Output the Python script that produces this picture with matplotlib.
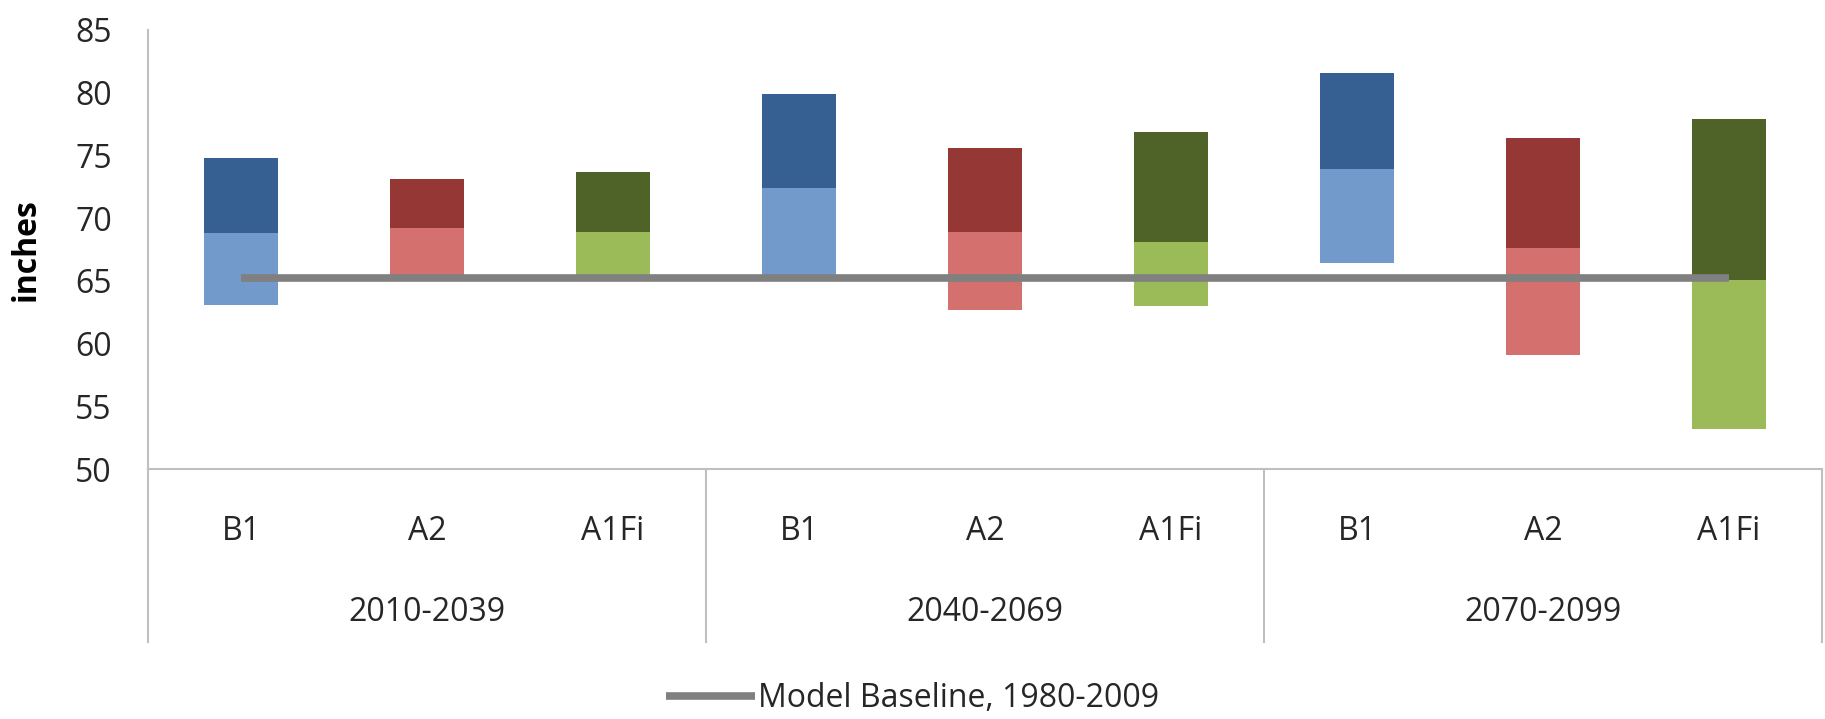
import numpy as np
import matplotlib
matplotlib.use('Agg')
import matplotlib.pyplot as plt
from matplotlib.lines import Line2D

plt.rcParams['font.family'] = ['Open Sans', 'DejaVu Sans']

periods = ['2010-2039', '2040-2069', '2070-2099']
scenarios = ['B1', 'A2', 'A1Fi']

# bar ranges: low end, split point, high end (inches)
lows = [63.1, 65.4, 65.4, 65.4, 62.7, 63.0, 66.4, 59.1, 53.2]
mids = [68.8, 69.2, 68.9, 72.4, 68.9, 68.1, 73.9, 67.6, 65.1]
highs = [74.8, 73.1, 73.7, 79.9, 75.6, 76.9, 81.6, 76.4, 77.9]
baseline = 65.2

lightColors = {'B1': '#729aca', 'A2': '#d4716f', 'A1Fi': '#9bbb59'}
darkColors = {'B1': '#366092', 'A2': '#953735', 'A1Fi': '#4f6228'}

labels = [s for p in periods for s in scenarios]
x = np.arange(len(labels))
lows = np.array(lows)
mids = np.array(mids)
highs = np.array(highs)

fs = 23

fig = plt.figure(figsize=(18.25, 7.19), dpi=100)
ax = fig.add_axes([148/1825, (719-469)/719, 1674/1825, 439/719])

ax.bar(x, mids - lows, bottom=lows, width=0.4,
       color=[lightColors[s] for s in labels], zorder=2)
ax.bar(x, highs - mids, bottom=mids, width=0.4,
       color=[darkColors[s] for s in labels], zorder=2)
ax.plot(x, np.full(len(x), baseline), color='#808080', lw=5.5,
        solid_capstyle='butt', zorder=3)

ax.set_xlim(-0.5, len(x) - 0.5)
ax.set_ylim(50, 85)
ax.set_yticks(np.arange(50, 86, 5))
ax.tick_params(axis='y', length=0, pad=26, labelsize=fs, labelcolor='#262626')
ax.set_xticks([])
ax.set_ylabel('inches', fontsize=fs, fontweight='bold')
ax.yaxis.set_label_coords(-0.063, 0.5)

for side in ['top', 'right']:
    ax.spines[side].set_visible(False)
for side in ['left', 'bottom']:
    ax.spines[side].set_color('#bfbfbf')
    ax.spines[side].set_linewidth(1.5)

# two-level category axis below the plot
trans = ax.get_xaxis_transform()
for i, lab in enumerate(labels):
    ax.text(x[i], -0.143, lab, transform=trans, ha='center', va='center',
            fontsize=fs, color='#262626')
for j, p in enumerate(periods):
    ax.text(3*j + 1, -0.328, p, transform=trans, ha='center', va='center',
            fontsize=fs, color='#262626')
for sep in [-0.5, 2.5, 5.5, 8.5]:
    ax.plot([sep, sep], [0, -0.394], transform=trans, color='#bfbfbf',
            lw=1.5, clip_on=False)

handle = Line2D([], [], color='#808080', lw=5.5, solid_capstyle='butt')
fig.legend([handle], ['Model Baseline, 1980-2009'], loc='center',
           bbox_to_anchor=(0.5, 0.028), frameon=False, fontsize=fs,
           handlelength=2.8, handletextpad=0.1, labelcolor='#262626')

fig.savefig('out.png', dpi=100)
